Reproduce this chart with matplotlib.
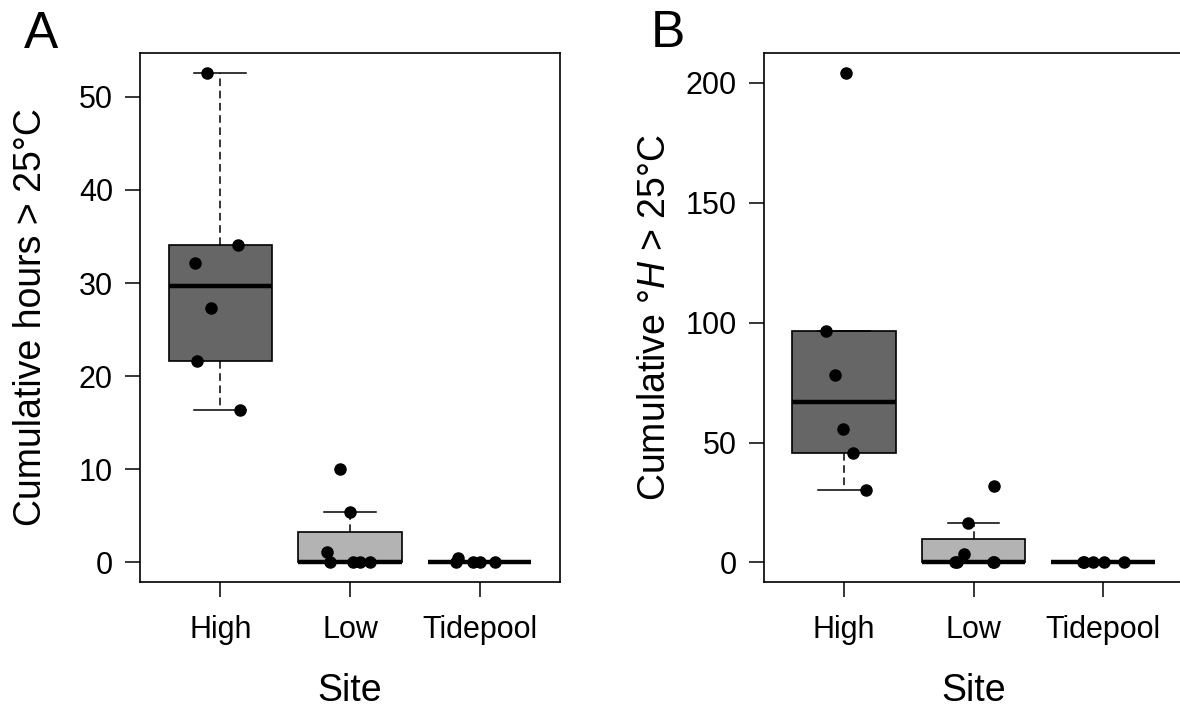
import numpy as np
import matplotlib.pyplot as plt
import matplotlib.transforms as mtransforms

plt.rcParams['font.family'] = ['Liberation Sans', 'DejaVu Sans']
plt.rcParams['mathtext.fontset'] = 'custom'
plt.rcParams['mathtext.rm'] = 'Liberation Sans'
plt.rcParams['mathtext.it'] = 'Liberation Sans:italic'

sites = ['High', 'Low', 'Tidepool']

# panel A: cumulative hours > 25 C
hours_high = [52.6, 34.1, 32.1, 27.3, 21.6, 16.4]
hours_low = [10.0, 5.4, 1.1, 0.0, 0.0, 0.0, 0.0]
hours_tide = [0.5, 0.0, 0.0, 0.0, 0.0]

# panel B: cumulative degree-hours > 25 C
dh_high = [204.3, 96.6, 78.0, 55.8, 45.5, 30.0]
dh_low = [31.9, 16.6, 3.3, 0.0, 0.0, 0.0, 0.0]
dh_tide = [0.0, 0.0, 0.0, 0.0, 0.0]

# horizontal jitter of the points
jit_a = [[-0.103, 0.138, -0.192, -0.074, -0.179, 0.149],
         [-0.079, 0.0, -0.177, -0.151, 0.021, 0.079, 0.156],
         [-0.164, -0.185, -0.049, 0.003, 0.115]]
jit_b = [[0.018, -0.141, -0.069, -0.010, 0.067, 0.169],
         [0.159, -0.046, -0.072, -0.128, -0.140, 0.159, 0.150],
         [-0.154, -0.145, -0.082, 0.005, 0.159]]

fills = ['#666666', '#b3b3b3', '#ffffff']


def tukey_stats(vals):
    # R style boxplot.stats (fivenum hinges, 1.5 IQR whiskers)
    x = np.sort(np.asarray(vals, dtype=float))
    n = len(x)
    n4 = np.floor((n + 3) / 2) / 2
    d = np.array([1, n4, (n + 1) / 2, n + 1 - n4, n])
    fn = 0.5 * (x[np.floor(d).astype(int) - 1] + x[np.ceil(d).astype(int) - 1])
    iqr = fn[3] - fn[1]
    inside = x[(x >= fn[1] - 1.5 * iqr - 1e-9) & (x <= fn[3] + 1.5 * iqr + 1e-9)]
    return {'med': fn[2], 'q1': fn[1], 'q3': fn[3],
            'whislo': inside.min(), 'whishi': inside.max(), 'fliers': []}


def panel(ax, groups, jit, yticks, ylabel):
    stats = [tukey_stats(g) for g in groups]
    bp = ax.bxp(stats, positions=[1, 2, 3], widths=0.8, patch_artist=True,
                showfliers=False,
                boxprops=dict(edgecolor='black', linewidth=1.2),
                whiskerprops=dict(color='black', linewidth=1.1,
                                  linestyle=(0, (5, 3))),
                capprops=dict(color='black', linewidth=1.1),
                medianprops=dict(color='black', linewidth=3.2,
                                 solid_capstyle='butt'))
    for patch, c in zip(bp['boxes'], fills):
        patch.set_facecolor(c)
    for i, (g, j) in enumerate(zip(groups, jit)):
        ax.plot(np.array(j) + i + 1, g, 'o', color='black', ms=8,
                zorder=5)

    ymax = max(max(g) for g in groups)
    ax.set_xlim(0.38, 3.62)
    ax.set_ylim(-0.04 * ymax, 1.04 * ymax)
    ax.set_xticks([1, 2, 3])
    ax.set_xticklabels(sites)
    ax.set_yticks(yticks)
    ax.tick_params(axis='both', direction='out', length=10.5, width=1.1,
                   labelsize=22)
    ax.tick_params(axis='y', pad=9)
    ax.tick_params(axis='x', pad=13)
    for s in ax.spines.values():
        s.set_linewidth(1.2)

    ax.text(-0.235, 0.5, ylabel, rotation=90, rotation_mode='anchor',
            ha='center', va='baseline', fontsize=27, transform=ax.transAxes)
    tr = mtransforms.blended_transform_factory(ax.transAxes, fig.transFigure)
    ax.text(0.5, 0.01, 'Site', ha='center', va='baseline', fontsize=27,
            transform=tr)
    return ax


fig = plt.figure(figsize=(11.8, 7.08), dpi=100)
ax_a = fig.add_axes([140 / 1180, 1 - 582 / 708, 420 / 1180, 529 / 708])
ax_b = fig.add_axes([763.5 / 1180, 1 - 582 / 708, 420 / 1180, 529 / 708])

panel(ax_a, [hours_high, hours_low, hours_tide], jit_a,
      [0, 10, 20, 30, 40, 50], 'Cumulative hours > 25°C')
panel(ax_b, [dh_high, dh_low, dh_tide], jit_b,
      [0, 50, 100, 150, 200], r'Cumulative °$\mathit{H}$ > 25°C')

fig.text(24 / 1180, 1 - 48 / 708, 'A', fontsize=37, va='baseline')
fig.text(651 / 1180, 1 - 47 / 708, 'B', fontsize=37, va='baseline')

fig.savefig('out.png', dpi=100)
